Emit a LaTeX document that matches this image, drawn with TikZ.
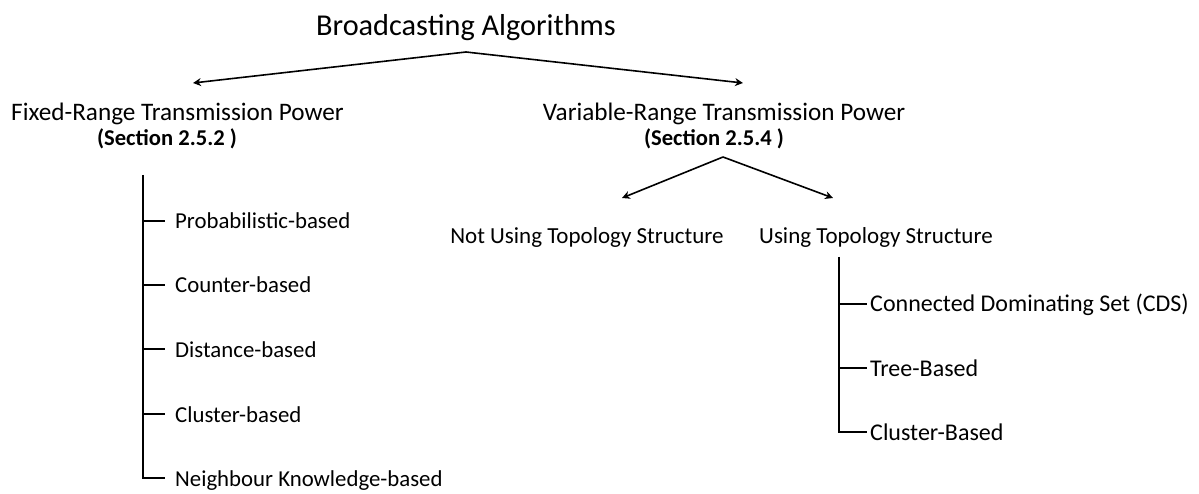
\documentclass[tikz,border=0pt]{standalone}
\usepackage{fontspec}
\setmainfont{Carlito}
\usetikzlibrary{arrows.meta}
\begin{document}
\begin{tikzpicture}[x=1pt,y=-1pt,
  lbl/.style={inner sep=0pt, anchor=base, font=\fontsize{25.2}{28}\selectfont},
  sub/.style={inner sep=0pt, anchor=base, font=\fontsize{23}{26}\selectfont},
  sec/.style={inner sep=0pt, anchor=base, text height=0.62em, text depth=0.12em,
              font=\bfseries\fontsize{22.6}{26}\selectfont},
  item/.style={inner sep=0pt, anchor=base west, font=\fontsize{22.8}{26}\selectfont},
  itemr/.style={item, font=\fontsize{24}{27}\selectfont},
  conn/.style={line width=1.6pt},
  arr/.style={conn, -{Stealth[length=8pt,width=8pt]}}]
\useasboundingbox (0,0) rectangle (1199,494);

% top level
\node[inner sep=0pt, anchor=base, font=\fontsize{30.3}{34}\selectfont] (root) at (466,36) {Broadcasting Algorithms};
\coordinate (rootapex) at (466,52);

% two families
\node[lbl] (fixed) at (177.5,121) {Fixed-Range Transmission Power};
\node[sec] (fixsec) at (167,146) {(Section 2.5.2 )};
\node[lbl] (var) at (724,121) {Variable-Range Transmission Power};
\node[sec] (varsec) at (714,146) {(Section 2.5.4 )};
\coordinate (fixtip) at (193,83);
\coordinate (vartip) at (743,83);
\draw[arr] (rootapex) -- (fixtip);
\draw[arr] (rootapex) -- (vartip);

% variable-range split
\node[sub] (notopo) at (587,244) {Not Using Topology Structure};
\node[sub] (topo) at (876,244) {Using Topology Structure};
\coordinate (varapex) at (723,157);
\coordinate (notip) at (622,198);
\coordinate (ustip) at (833,198);
\draw[arr] (varapex) -- (notip);
\draw[arr] (varapex) -- (ustip);

% fixed-range list
\coordinate (ftop) at (143,175);
\node[item] (f1) at (175,229) {Probabilistic-based};
\node[item] (f2) at (175,293) {Counter-based};
\node[item] (f3) at (175,357) {Distance-based};
\node[item] (f4) at (175,422) {Cluster-based};
\node[item] (f5) at (175,486) {Neighbour Knowledge-based};
\foreach \n/\y in {f1/221,f2/285,f3/349,f4/414}
  \draw[conn] (ftop |- 0,\y) -- ([xshift=-10pt]\n.west |- 0,\y);
\draw[conn] (ftop) |- ([xshift=-10pt]f5.west |- 0,478);

% topology-based list
\coordinate (utop) at (839,257);
\node[itemr] (u1) at (870,312) {Connected Dominating Set (CDS)};
\node[itemr] (u2) at (870,376) {Tree-Based};
\node[itemr] (u3) at (870,440) {Cluster-Based};
\foreach \n/\y in {u1/304,u2/368}
  \draw[conn] (utop |- 0,\y) -- ([xshift=-3pt]\n.west |- 0,\y);
\draw[conn] (utop) |- ([xshift=-3pt]u3.west |- 0,432);
\end{tikzpicture}
\end{document}
